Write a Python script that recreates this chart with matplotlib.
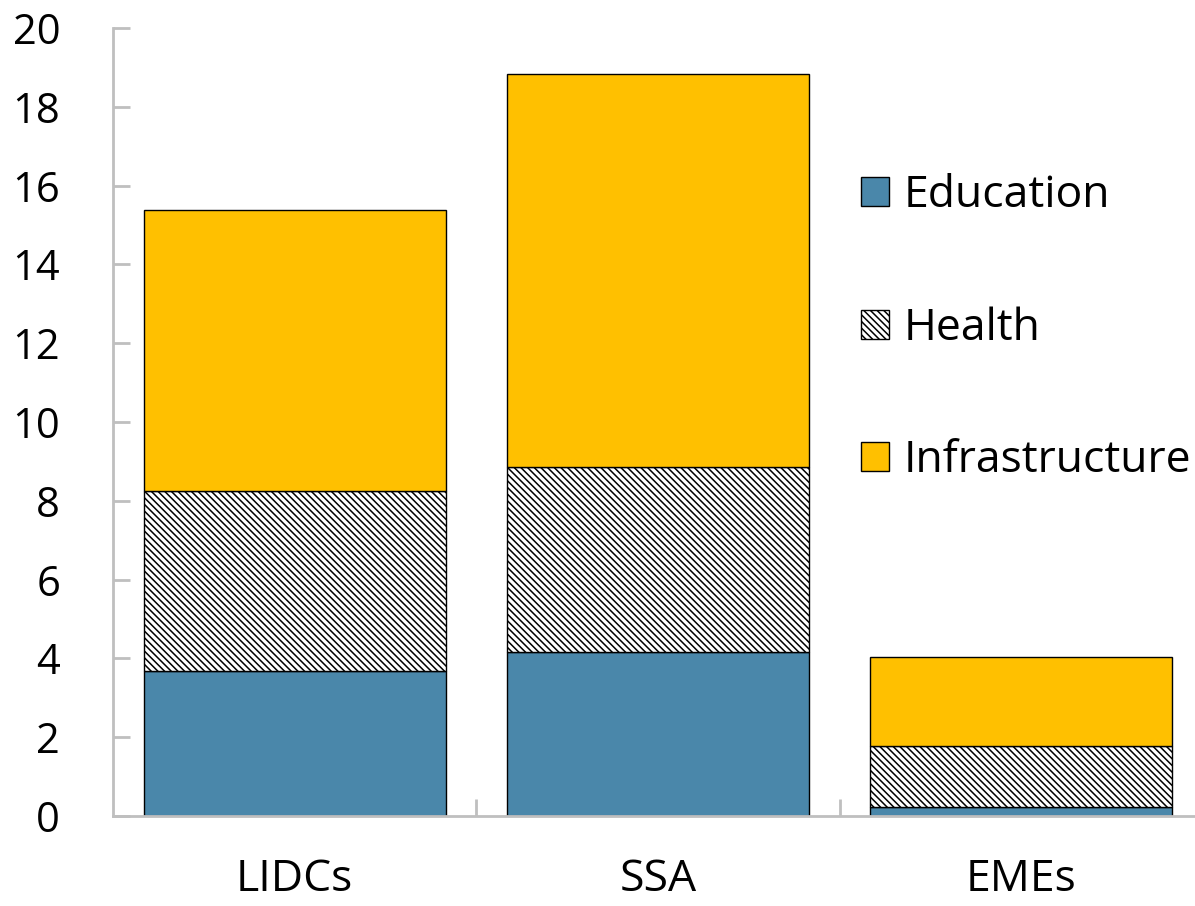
import matplotlib
matplotlib.use("Agg")
import matplotlib.pyplot as plt
import numpy as np

categories = ["LIDCs", "SSA", "EMEs"]
education = [3.68, 4.16, 0.23]
health = [4.57, 4.70, 1.55]
infrastructure = [7.13, 9.97, 2.26]
yticks = [0, 2, 4, 6, 8, 10, 12, 14, 16, 18, 20]

plt.rcParams['font.family'] = ['Open Sans', 'DejaVu Sans']
plt.rcParams['hatch.linewidth'] = 1.1
plt.rcParams['hatch.color'] = 'black'

W, H = 1195, 906
fig = plt.figure(figsize=(W / 100, H / 100), dpi=100)
left, bottom, top = 113, 816, 28
right = 1202.75
ax = fig.add_axes([left / W, (H - bottom) / H, (right - left) / W, (bottom - top) / H])

x = np.arange(len(categories))
width = 0.832
edu = np.array(education)
hea = np.array(health)
inf = np.array(infrastructure)

ax.bar(x, edu, width, color='#4A87AA', edgecolor='black', linewidth=1.0, label='Education')
ax.bar(x, hea, width, bottom=edu, color='white', edgecolor='black', linewidth=1.0,
       hatch='\\' * 5, label='Health')
ax.bar(x, inf, width, bottom=edu + hea, color='#FFC000', edgecolor='black', linewidth=1.0,
       label='Infrastructure')

ax.set_xlim(-0.5, len(categories) - 0.5)
ax.set_ylim(0, 20)
ax.set_yticks(yticks)
ax.set_yticklabels([str(t) for t in yticks])
ax.set_xticks(x)
ax.set_xticklabels(categories)
ax.set_xticks([0.5, 1.5], minor=True)

for s in ['top', 'right']:
    ax.spines[s].set_visible(False)
for s in ['left', 'bottom']:
    ax.spines[s].set_color('#BFBFBF')
    ax.spines[s].set_linewidth(2)

ax.tick_params(axis='y', direction='in', length=12, width=2, color='#BFBFBF',
               labelsize=30, pad=38)
ax.tick_params(axis='x', which='major', length=0, labelsize=32, pad=30)
ax.tick_params(axis='x', which='minor', direction='in', length=12, width=2, color='#BFBFBF')

leg = ax.legend(loc='upper left', bbox_to_anchor=(843 / W, (H - 156) / H),
                bbox_transform=fig.transFigure, frameon=False, fontsize=32,
                handlelength=0.63, handleheight=0.63, handletextpad=0.33,
                labelspacing=1.98, borderaxespad=0)

fig.savefig('out.png', dpi=100)
